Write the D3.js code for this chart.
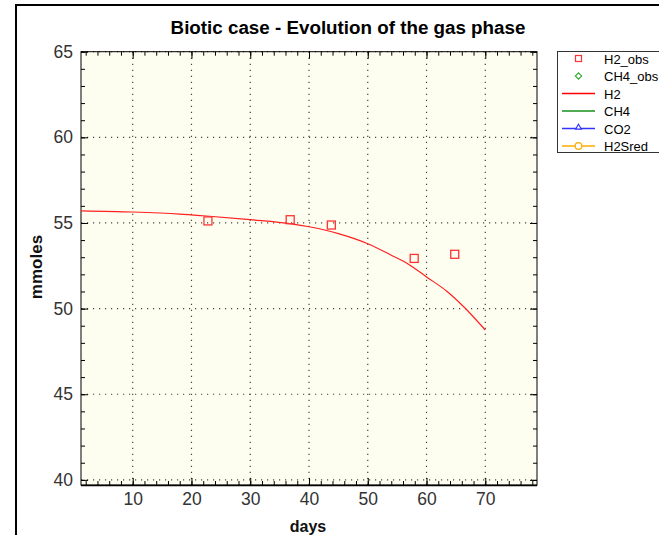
<!DOCTYPE html>
<html>
<head>
<meta charset="utf-8">
<script src="https://cdn.jsdelivr.net/npm/d3@7"></script>
<style>
  html, body { margin: 0; padding: 0; background: #ffffff; }
  svg { display: block; font-family: "Liberation Sans", Arial, sans-serif; }
</style>
</head>
<body>
<svg id="chart" width="659" height="535"></svg>
<script>
// ---- data ----
const title = "Biotic case - Evolution of the gas phase";
const xLabel = "days";
const yLabel = "mmoles";
const xTicks = [10, 20, 30, 40, 50, 60, 70];
const yTicks = [40, 45, 50, 55, 60, 65];
const obsDays = [22.8, 36.8, 43.8, 57.9, 64.8];
const obsH2 = [55.12, 55.19, 54.88, 52.93, 53.17];
const h2Days = [1.2, 10, 18, 22, 30, 37, 40, 45, 50, 54, 57, 60, 63.5, 66.5, 70];
const h2Vals = [55.71, 55.64, 55.52, 55.42, 55.19, 54.95, 54.78, 54.38, 53.79, 53.12, 52.58, 51.85, 51.0, 50.05, 48.75];
const legendNames = ["H2_obs", "CH4_obs", "H2", "CH4", "CO2", "H2Sred"];

// ---- layout ----
const svg = d3.select("#chart");
const L = 81, R = 537, T = 51.7, B = 485;
const x = d3.scaleLinear().domain([1.2, 78.8]).range([L, R]);
const y = d3.scaleLinear().domain([39.7, 65]).range([B, T]);

// outer frame
svg.append("path").attr("d", `M16,535 L16,5 L659,5`).attr("fill", "none").attr("stroke", "#000").attr("stroke-width", 2);

// plot background
svg.append("rect").attr("x", L).attr("y", T).attr("width", R - L).attr("height", B - T).attr("fill", "#fefef0");

svg.append("clipPath").attr("id", "clip").append("rect")
  .attr("x", L).attr("y", T).attr("width", R - L).attr("height", B - T);

// grid
const grid = svg.append("g").attr("stroke", "#444").attr("stroke-width", 1.2).attr("stroke-dasharray", "1.2,4.8");
xTicks.forEach(t => grid.append("line").attr("x1", x(t)).attr("x2", x(t)).attr("y1", B).attr("y2", T));
yTicks.forEach(t => grid.append("line").attr("x1", L).attr("x2", R).attr("y1", y(t)).attr("y2", y(t)));

// axes with inward ticks
const xMinor = d3.range(2, 79, 2);
const yMinor = d3.range(40, 65.01, 1);
const lblStyle = g => g.selectAll("text").attr("font-size", 17.5).attr("fill", "#333")
  .attr("font-family", "Liberation Sans, Arial, sans-serif");
const ax = svg.append("g");
ax.append("g").attr("transform", `translate(0,${B})`)
  .call(d3.axisBottom(x).tickValues(xMinor).tickSize(-4).tickFormat(""))
  .call(g => g.select(".domain").remove());
ax.append("g").attr("transform", `translate(0,${B})`)
  .call(d3.axisBottom(x).tickValues(xTicks).tickSize(-7).tickPadding(8).tickFormat(d3.format("d")))
  .call(g => g.select(".domain").remove())
  .call(lblStyle);
ax.append("g").attr("transform", `translate(0,${T})`)
  .call(d3.axisTop(x).tickValues(xMinor).tickSize(-4).tickFormat(""))
  .call(g => g.select(".domain").remove());
ax.append("g").attr("transform", `translate(0,${T})`)
  .call(d3.axisTop(x).tickValues(xTicks).tickSize(-7).tickFormat(""))
  .call(g => g.select(".domain").remove());
ax.append("g").attr("transform", `translate(${L},0)`)
  .call(d3.axisLeft(y).tickValues(yMinor).tickSize(-4).tickFormat(""))
  .call(g => g.select(".domain").remove());
ax.append("g").attr("transform", `translate(${L},0)`)
  .call(d3.axisLeft(y).tickValues(yTicks).tickSize(-7).tickPadding(8).tickFormat(d3.format("d")))
  .call(g => g.select(".domain").remove())
  .call(lblStyle);
ax.append("g").attr("transform", `translate(${R},0)`)
  .call(d3.axisRight(y).tickValues(yMinor).tickSize(-4).tickFormat(""))
  .call(g => g.select(".domain").remove());
ax.append("g").attr("transform", `translate(${R},0)`)
  .call(d3.axisRight(y).tickValues(yTicks).tickSize(-7).tickFormat(""))
  .call(g => g.select(".domain").remove());
ax.selectAll(".tick line").attr("stroke", "#000");

// plot border
svg.append("rect").attr("x", L).attr("y", T).attr("width", R - L).attr("height", B - T)
  .attr("fill", "none").attr("stroke", "#000").attr("stroke-width", 1);
svg.append("line").attr("x1", L).attr("x2", R).attr("y1", B + 0.5).attr("y2", B + 0.5).attr("stroke", "#000").attr("stroke-width", 1.5);

// H2 curve
const line = d3.line().x((d, i) => x(h2Days[i])).y(d => y(d)).curve(d3.curveMonotoneX);
svg.append("path").datum(h2Vals).attr("d", line).attr("fill", "none")
  .attr("stroke", "#ff2020").attr("stroke-width", 1.2).attr("clip-path", "url(#clip)");

// observations
svg.append("g").selectAll("rect").data(obsH2).join("rect")
  .attr("x", (d, i) => x(obsDays[i]) - 4).attr("y", d => y(d) - 4)
  .attr("width", 8).attr("height", 8)
  .attr("fill", "none").attr("stroke", "#ff3333").attr("stroke-width", 1.3);

// title & axis labels
svg.append("text").attr("x", 348).attr("y", 34).attr("text-anchor", "middle")
  .attr("font-size", 18.8).attr("font-weight", "bold").attr("fill", "#000").text(title);
svg.append("text").attr("x", 308).attr("y", 532).attr("text-anchor", "middle")
  .attr("font-size", 16).attr("font-weight", "bold").attr("fill", "#111").text(xLabel);
svg.append("text").attr("transform", "translate(42,267) rotate(-90)").attr("text-anchor", "middle")
  .attr("font-size", 17).attr("font-weight", "bold").attr("fill", "#111").text(yLabel);

// legend
const lg = svg.append("g");
lg.append("rect").attr("x", 557.5).attr("y", 51.5).attr("width", 120).attr("height", 101)
  .attr("fill", "#fff").attr("stroke", "#333").attr("stroke-width", 1);
const ly = i => 58.5 + i * 17.5;
const lx1 = 562, lx2 = 595, lcx = 578.5;
legendNames.forEach((n, i) => {
  lg.append("text").attr("x", 604).attr("y", ly(i) + 5).attr("font-size", 13).attr("fill", "#000").text(n);
});
// H2_obs symbol
lg.append("rect").attr("x", lcx - 3).attr("y", ly(0) - 3).attr("width", 6).attr("height", 6)
  .attr("fill", "none").attr("stroke", "#ff3333").attr("stroke-width", 1.2);
// CH4_obs diamond
lg.append("path").attr("d", d3.symbol(d3.symbolDiamond2, 26)()).attr("transform", `translate(${lcx},${ly(1)})`)
  .attr("fill", "none").attr("stroke", "#33aa33").attr("stroke-width", 1.1);
// series lines
const legendLines = [[2, "#ff0000"], [3, "#1a8f1a"], [4, "#3333ff"], [5, "#ffaa00"]];
legendLines.forEach(([i, c]) => {
  lg.append("line").attr("x1", lx1).attr("x2", lx2).attr("y1", ly(i)).attr("y2", ly(i))
    .attr("stroke", c).attr("stroke-width", 1.3);
});
// CO2 triangle
lg.append("path").attr("d", d3.symbol(d3.symbolTriangle2, 24)()).attr("transform", `translate(${lcx},${ly(4) - 1})`)
  .attr("fill", "#fff").attr("stroke", "#3333ff").attr("stroke-width", 1.1);
// H2Sred circle
lg.append("circle").attr("cx", lcx).attr("cy", ly(5)).attr("r", 3.3)
  .attr("fill", "#fff").attr("stroke", "#ffaa00").attr("stroke-width", 1.2);
</script>
</body>
</html>
